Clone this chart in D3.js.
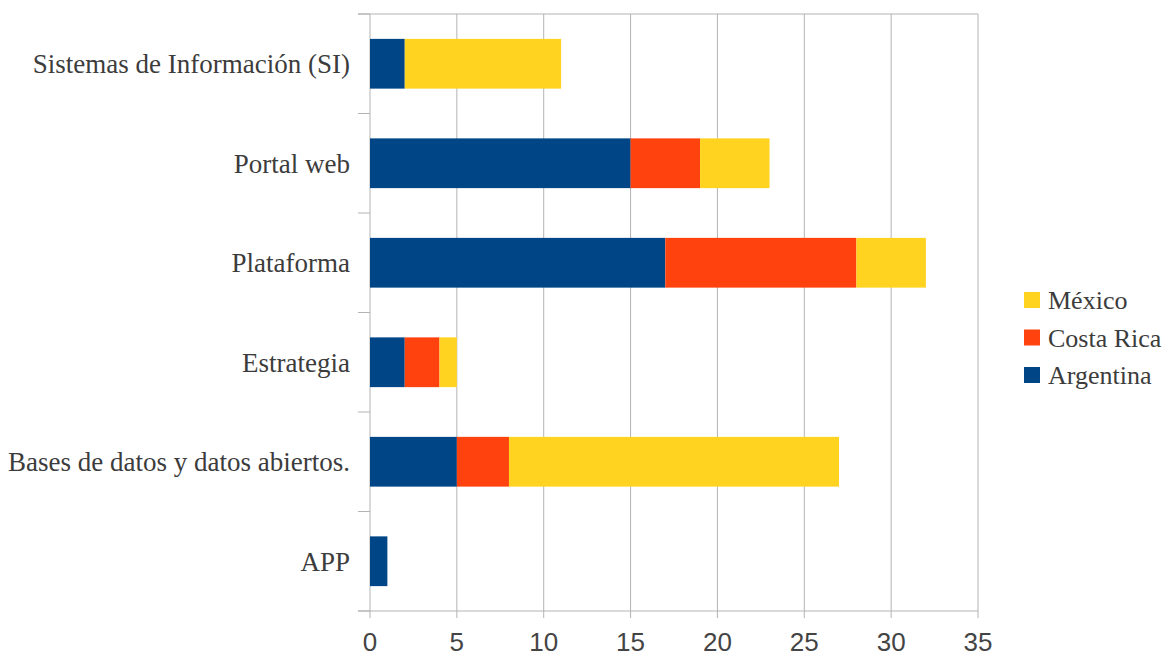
<!DOCTYPE html>
<html lang="es">
<head>
<meta charset="utf-8">
<script src="https://cdn.jsdelivr.net/npm/d3@7"></script>
<style>
  body { margin: 0; background: #fff; }
</style>
</head>
<body>
<script>
// categories, top to bottom
var categories = ["Sistemas de Información (SI)", "Portal web", "Plataforma", "Estrategia", "Bases de datos y datos abiertos.", "APP"];
var argentina = [2, 15, 17, 2, 5, 1];
var costaRica = [0, 4, 11, 2, 3, 0];
var mexico = [9, 4, 4, 1, 19, 0];
var series = ["Argentina", "Costa Rica", "México"];
var colors = ["#004586", "#ff420e", "#ffd320"];
var xTicks = [0, 5, 10, 15, 20, 25, 30, 35];

var w = 1168, h = 657;
var mLeft = 370, mRight = 978, mTop = 14, mBottom = 611;

var svg = d3.select("body").append("svg")
  .attr("width", w).attr("height", h);

var x = d3.scaleLinear().domain([0, 35]).range([mLeft, mRight]);
var y = d3.scaleBand().domain(categories).range([mTop, mBottom]).paddingInner(0.5).paddingOuter(0.25);

var rows = categories.map(function(c, i) {
  return { cat: c, "Argentina": argentina[i], "Costa Rica": costaRica[i], "México": mexico[i] };
});
var stacked = d3.stack().keys(series)(rows);

// gridlines
svg.append("g").selectAll("line").data(xTicks).enter().append("line")
  .attr("x1", function(d) { return x(d); }).attr("x2", function(d) { return x(d); })
  .attr("y1", mTop).attr("y2", mBottom + 7)
  .attr("stroke", "#b3b3b3").attr("stroke-width", 1);
svg.append("line").attr("x1", mLeft - 12).attr("x2", mRight).attr("y1", mTop).attr("y2", mTop)
  .attr("stroke", "#b3b3b3");
svg.append("line").attr("x1", mLeft - 12).attr("x2", mRight).attr("y1", mBottom).attr("y2", mBottom)
  .attr("stroke", "#b3b3b3");

// y tick marks on band boundaries
var step = (mBottom - mTop) / categories.length;
svg.append("g").selectAll("line").data(d3.range(categories.length + 1)).enter().append("line")
  .attr("x1", mLeft - 12).attr("x2", mLeft)
  .attr("y1", function(d) { return mTop + d * step; }).attr("y2", function(d) { return mTop + d * step; })
  .attr("stroke", "#b3b3b3");

// bars
svg.append("g").selectAll("g").data(stacked).enter().append("g")
  .attr("fill", function(d, i) { return colors[i]; })
  .selectAll("rect").data(function(d) { return d; }).enter().append("rect")
  .attr("x", function(d) { return x(d[0]); })
  .attr("width", function(d) { return x(d[1]) - x(d[0]); })
  .attr("y", function(d) { return y(d.data.cat); })
  .attr("height", y.bandwidth());

// x labels
svg.append("g").selectAll("text").data(xTicks).enter().append("text")
  .attr("x", function(d) { return x(d); }).attr("y", 651)
  .attr("text-anchor", "middle")
  .attr("font-family", "Liberation Sans, Arial, sans-serif").attr("font-size", 26)
  .attr("fill", "#444")
  .text(function(d) { return d; });

// y labels
svg.append("g").selectAll("text").data(categories).enter().append("text")
  .attr("x", 350).attr("y", function(d) { return y(d) + y.bandwidth() / 2; })
  .attr("dy", "0.35em").attr("text-anchor", "end")
  .attr("font-family", "Liberation Serif, Times New Roman, serif").attr("font-size", 27)
  .attr("fill", "#3c3c3c")
  .text(function(d) { return d; });

// legend, México on top
var legendItems = [2, 1, 0];
var lg = svg.append("g").selectAll("g").data(legendItems).enter().append("g")
  .attr("transform", function(d, i) { return "translate(1024," + (300 + i * 37.5) + ")"; });
lg.append("rect").attr("x", 0).attr("y", -8).attr("width", 16).attr("height", 16)
  .attr("fill", function(d) { return colors[d]; });
lg.append("text").attr("x", 24).attr("y", 0).attr("dy", "0.35em")
  .attr("font-family", "Liberation Serif, Times New Roman, serif").attr("font-size", 26)
  .attr("fill", "#3c3c3c")
  .text(function(d) { return series[d]; });
</script>
</body>
</html>
